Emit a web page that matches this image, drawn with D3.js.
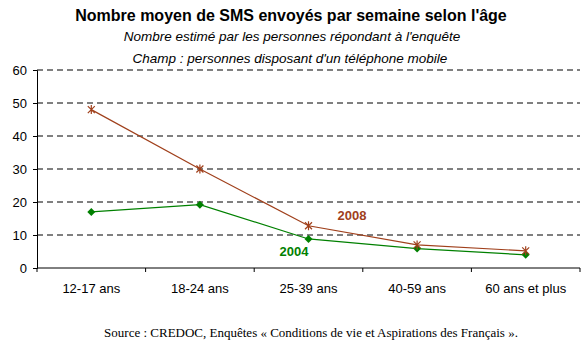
<!DOCTYPE html>
<html>
<head>
<meta charset="utf-8">
<script src="https://cdn.jsdelivr.net/npm/d3@7"></script>
<style>
  body { margin: 0; background: #fff; }
  text { font-family: "Liberation Sans", Arial, sans-serif; }
</style>
</head>
<body>
<div id="chart"></div>
<script>
// Data
const categories = ['12-17 ans', '18-24 ans', '25-39 ans', '40-59 ans', '60 ans et plus'];
const values2008 = [48, 30, 12.8, 7, 5.2];
const values2004 = [17, 19.2, 8.8, 5.9, 4];
const yTicks = [0, 10, 20, 30, 40, 50, 60];

const width = 585, height = 347;
const margin = { top: 70, right: 5, bottom: 79, left: 37 };

const svg = d3.select('#chart').append('svg')
  .attr('width', width)
  .attr('height', height);

const x = d3.scaleBand().domain(categories).range([margin.left, width - margin.right]).padding(0);
const y = d3.scaleLinear().domain([0, 60]).range([height - margin.bottom, margin.top]);

// Titles
svg.append('text').attr('x', 291).attr('y', 21).attr('text-anchor', 'middle')
  .style('font-size', '16px').style('font-weight', 'bold')
  .text("Nombre moyen de SMS envoyés par semaine selon l'âge");
svg.append('text').attr('x', 292).attr('y', 41).attr('text-anchor', 'middle')
  .style('font-size', '13.5px').style('font-style', 'italic')
  .text("Nombre estimé par les personnes répondant à l'enquête");
svg.append('text').attr('x', 290).attr('y', 63).attr('text-anchor', 'middle')
  .style('font-size', '13.5px').style('font-style', 'italic')
  .text("Champ : personnes disposant d'un téléphone mobile");

// Gridlines
svg.append('g').selectAll('line')
  .data(yTicks.filter(d => d > 0))
  .enter().append('line')
  .attr('x1', margin.left).attr('x2', width - margin.right)
  .attr('y1', d => y(d)).attr('y2', d => y(d))
  .attr('stroke', '#000').attr('stroke-dasharray', '6,4');

// Y axis
const yAxis = svg.append('g')
  .attr('transform', `translate(${margin.left},0)`)
  .call(d3.axisLeft(y).tickValues(yTicks).tickSize(4).tickPadding(6));
yAxis.select('.domain').attr('stroke', '#000');
yAxis.selectAll('text').style('font-size', '13px').attr('fill', '#000')
  .style('font-family', '"Liberation Sans", Arial, sans-serif');

// X axis
const xAxis = svg.append('g')
  .attr('transform', `translate(0,${y(0)})`)
  .call(d3.axisBottom(x).tickSize(0).tickPadding(16));
xAxis.select('.domain').attr('d', `M${margin.left},0H${width - margin.right}`).attr('stroke', '#000');
xAxis.selectAll('text').style('font-size', '13px').attr('fill', '#000')
  .style('font-family', '"Liberation Sans", Arial, sans-serif');
// band boundary ticks
svg.append('g').selectAll('line')
  .data(categories.map(c => x(c) + x.bandwidth()).concat([x(categories[0])]))
  .enter().append('line')
  .attr('x1', d => d).attr('x2', d => d)
  .attr('y1', y(0)).attr('y2', y(0) + 4)
  .attr('stroke', '#000');

const cx = (d, i) => x(categories[i]) + x.bandwidth() / 2;
const line = d3.line().x(cx).y(d => y(d));

// 2004 series
const c2004 = '#008000', c2008 = '#a0401c';
svg.append('path').datum(values2004)
  .attr('d', line).attr('fill', 'none').attr('stroke', c2004).attr('stroke-width', 1.2);
svg.append('g').selectAll('path')
  .data(values2004).enter().append('path')
  .attr('transform', (d, i) => `translate(${cx(d, i)},${y(d)})`)
  .attr('d', 'M0,-4L4,0L0,4L-4,0Z')
  .attr('fill', c2004);

// 2008 series
svg.append('path').datum(values2008)
  .attr('d', line).attr('fill', 'none').attr('stroke', c2008).attr('stroke-width', 1.2);
svg.append('g').selectAll('path')
  .data(values2008).enter().append('path')
  .attr('transform', (d, i) => `translate(${cx(d, i)},${y(d)})`)
  .attr('d', 'M-3.5,-3.5L3.5,3.5M-3.5,3.5L3.5,-3.5M0,-4.5L0,4.5')
  .attr('stroke', c2008).attr('stroke-width', 1.2).attr('fill', 'none');

// Series labels
svg.append('text').attr('x', 352).attr('y', 220).attr('text-anchor', 'middle')
  .style('font-size', '13px').style('font-weight', 'bold').attr('fill', c2008).text('2008');
svg.append('text').attr('x', 294).attr('y', 256).attr('text-anchor', 'middle')
  .style('font-size', '13px').style('font-weight', 'bold').attr('fill', c2004).text('2004');

// Source
svg.append('text').attr('x', 311).attr('y', 337).attr('text-anchor', 'middle')
  .style('font-size', '13px').style('font-family', '"Liberation Serif", "Times New Roman", serif')
  .text('Source : CREDOC, Enquêtes « Conditions de vie et Aspirations des Français ».');
</script>
</body>
</html>
